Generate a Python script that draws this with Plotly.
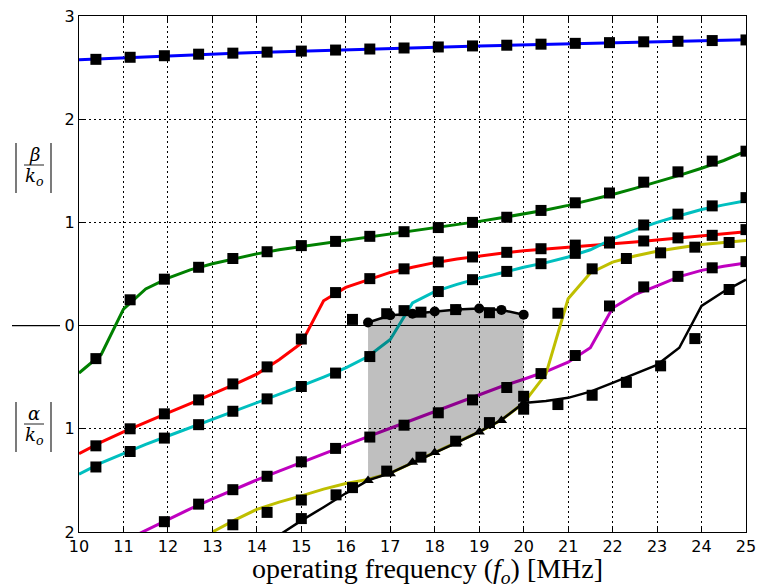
import plotly.graph_objects as go

# ---------------- data ----------------
freq = [10.0, 10.5, 11.0, 11.5, 12.0, 12.5, 13.0, 13.5, 14.0, 14.5, 15.0, 15.5,
        16.0, 16.5, 17.0, 17.5, 18.0, 18.5, 19.0, 19.5, 20.0, 20.5, 21.0, 21.5,
        22.0, 22.5, 23.0, 23.5, 24.0, 24.5, 25.0]

blue_line = [2.575, 2.585, 2.595, 2.605, 2.615, 2.623, 2.631, 2.639, 2.646, 2.653, 2.66, 2.667,
             2.673, 2.679, 2.685, 2.691, 2.697, 2.703, 2.709, 2.715, 2.72, 2.725, 2.73, 2.735,
             2.74, 2.745, 2.75, 2.755, 2.76, 2.765, 2.77]
green_line = [-0.46, -0.28, 0.16, 0.355, 0.46, 0.54, 0.60, 0.65, 0.695, 0.735, 0.765, 0.795,
              0.825, 0.855, 0.885, 0.915, 0.945, 0.975, 1.01, 1.045, 1.08, 1.12, 1.165, 1.215,
              1.27, 1.33, 1.39, 1.455, 1.525, 1.60, 1.69]
red_line = [-1.24, -1.13, -1.03, -0.935, -0.845, -0.755, -0.665, -0.57, -0.47, -0.33, -0.17, 0.24,
            0.37, 0.44, 0.515, 0.565, 0.61, 0.645, 0.675, 0.70, 0.725, 0.745, 0.76, 0.775,
            0.79, 0.81, 0.83, 0.85, 0.87, 0.89, 0.91]
cyan_line = [-1.44, -1.33, -1.24, -1.15, -1.07, -0.99, -0.91, -0.83, -0.75, -0.665, -0.585, -0.50,
             -0.41, -0.30, -0.135, 0.22, 0.33, 0.40, 0.46, 0.51, 0.565, 0.61, 0.665, 0.735,
             0.84, 0.925, 1.0, 1.065, 1.125, 1.17, 1.21]
magenta_line = [None, None, -2.09, -1.985, -1.88, -1.775, -1.68, -1.585, -1.495, -1.41, -1.325, -1.24,
                -1.155, -1.075, -0.995, -0.915, -0.835, -0.755, -0.675, -0.59, -0.52, -0.445, -0.355, -0.215,
                0.17, 0.30, 0.385, 0.475, 0.535, 0.575, 0.607]
yellow_line = [None, None, None, None, None, None, -2.0, -1.885, -1.78, -1.71, -1.65, -1.585,
               -1.53, -1.49, -1.43, -1.33, -1.235, -1.135, -1.03, -0.915, -0.75, -0.47, 0.26, 0.51,
               0.615, 0.675, 0.72, 0.755, 0.785, 0.805, 0.825]
black_line = [None, None, None, None, None, None, None, None, None, -2.03, -1.89, -1.76,
              -1.625, -1.50, -1.43, -1.33, -1.235, -1.135, -1.03, -0.915, -0.75, -0.73, -0.70, -0.64,
              -0.555, -0.47, -0.38, -0.215, 0.19, 0.33, 0.445]

# square markers (measured modes)
sq_grid = [10.38, 11.15, 11.92, 12.69, 13.46, 14.23, 15.0, 15.77, 16.54, 17.31,
           18.08, 18.85, 19.62, 20.39, 21.16, 21.93, 22.7, 23.47, 24.24, 25.0]
blue_sq = [2.58, 2.60, 2.615, 2.63, 2.64, 2.65, 2.66, 2.67, 2.68, 2.69,
           2.70, 2.71, 2.717, 2.727, 2.735, 2.742, 2.75, 2.755, 2.762, 2.768]
green_sq = [-0.32, 0.25, 0.45, 0.565, 0.65, 0.716, 0.775, 0.816, 0.865, 0.91,
            0.95, 1.0, 1.05, 1.116, 1.19, 1.285, 1.39, 1.49, 1.594, 1.69]
red_sq = [-1.165, -1.0, -0.855, -0.72, -0.565, -0.40, -0.13, 0.32, 0.455, 0.55,
          0.617, 0.665, 0.71, 0.745, 0.78, 0.80, 0.82, 0.85, 0.875, 0.93]
cyan_sq = [-1.37, -1.22, -1.09, -0.96, -0.83, -0.71, -0.59, -0.46, -0.30, 0.145,
           0.33, 0.445, 0.525, 0.60, 0.70, 0.81, 0.975, 1.08, 1.16, 1.24]
magenta_sq_x = [11.92, 12.69, 13.46, 14.23, 15.0, 15.77, 16.54, 17.31, 18.08,
                18.85, 19.62, 20.39, 21.16, 21.93, 22.7, 23.47, 24.24, 25.0]
magenta_sq = [-1.90, -1.73, -1.59, -1.46, -1.32, -1.19, -1.08, -0.965, -0.845,
              -0.72, -0.60, -0.465, -0.29, 0.19, 0.375, 0.477, 0.56, 0.62]
yellow_sq_x = [13.46, 14.23, 15.0, 20.0, 20.77, 21.54, 22.31, 23.08, 23.85, 24.62]
yellow_sq = [-1.93, -1.81, -1.69, -0.685, 0.12, 0.55, 0.65, 0.705, 0.76, 0.805]
black_sq_x = [15.0, 15.78, 16.15, 16.92, 17.69, 18.47, 19.23, 20.0, 20.77, 21.54,
              22.31, 23.08, 23.85, 24.62]
black_sq = [-1.87, -1.64, -1.57, -1.41, -1.275, -1.12, -0.94, -0.81, -0.765, -0.675,
            -0.55, -0.39, -0.126, 0.35]
top_sq_x = [16.15, 16.92, 17.69, 18.47, 19.23]
top_sq = [0.06, 0.115, 0.13, 0.155, 0.125]

# complex-mode band (shaded region)
band_x = [16.5, 17.0, 17.5, 18.0, 18.5, 19.0, 19.5, 20.0]
band_top = [0.03, 0.10, 0.115, 0.137, 0.157, 0.165, 0.152, 0.106]
band_bottom = [-1.50, -1.435, -1.325, -1.23, -1.135, -1.03, -0.92, -0.75]

x_ticks = [10, 11, 12, 13, 14, 15, 16, 17, 18, 19, 20, 21, 22, 23, 24, 25]
y_ticks = [-2, -1, 0, 1, 2, 3]
y_ticktext = ['2', '1', '0', '1', '2', '3']

# ---------------- figure ----------------
W, H = 766, 585
OFF = 8  # page body offset
# target plot area on screen: x 79..746, y 16..532
PW, PH = 667, 516
L = 79 - OFF
T = 16 - OFF
R = W - L - PW
B = H - T - PH


def px(xp):
    return (xp - 79) / PW


def py(yp):
    return (532 - yp) / PH


fig = go.Figure()

line_sets = [
    (blue_line, '#0000ff'),
    (green_line, '#008000'),
    (red_line, '#ff0000'),
    (cyan_line, '#00bfbf'),
    (magenta_line, '#bf00bf'),
    (yellow_line, '#bfbf00'),
]
for ys, col in line_sets:
    fig.add_trace(go.Scatter(x=freq, y=ys, mode='lines',
                             line=dict(color=col, width=3),
                             connectgaps=False, hoverinfo='skip'))

sq_sets = [
    (sq_grid, blue_sq), (sq_grid, green_sq), (sq_grid, red_sq), (sq_grid, cyan_sq),
    (magenta_sq_x, magenta_sq), (yellow_sq_x, yellow_sq), (black_sq_x, black_sq),
    (top_sq_x, top_sq),
]
for xs, ys in sq_sets:
    fig.add_trace(go.Scatter(x=xs, y=ys, mode='markers',
                             marker=dict(symbol='square', size=11, color='black',
                                         line=dict(width=0)),
                             cliponaxis=True, hoverinfo='skip'))

# shaded band
fig.add_trace(go.Scatter(x=band_x + band_x[::-1], y=band_top + band_bottom[::-1],
                         mode='lines', fill='toself', fillcolor='rgba(0,0,0,0.25)',
                         line=dict(width=0, color='rgba(0,0,0,0)'), hoverinfo='skip'))

# black mode line
fig.add_trace(go.Scatter(x=freq, y=black_line, mode='lines',
                         line=dict(color='black', width=2.5), hoverinfo='skip'))
fig.add_trace(go.Scatter(x=band_x, y=band_bottom, mode='markers',
                         marker=dict(symbol='triangle-up', size=10, color='black'),
                         hoverinfo='skip'))
fig.add_trace(go.Scatter(x=band_x, y=band_top, mode='lines+markers',
                         line=dict(color='black', width=2.5),
                         marker=dict(symbol='circle', size=10, color='black'),
                         hoverinfo='skip'))

tickfont = dict(family='DejaVu Sans', size=16, color='black')
fig.update_xaxes(range=[10, 25], tickvals=x_ticks, showgrid=True, gridcolor='black',
                 gridwidth=0.8, griddash='2px,3px', showline=True, linecolor='black',
                 linewidth=1.2, mirror='ticks', ticks='inside', ticklen=5,
                 tickcolor='black', tickfont=tickfont, zeroline=False, automargin=False,
                 ticklabeloverflow='allow')
fig.update_yaxes(range=[-2, 3], tickvals=y_ticks, ticktext=y_ticktext, showgrid=True,
                 gridcolor='black', gridwidth=0.8, griddash='2px,3px', showline=True,
                 linecolor='black', linewidth=1.2, mirror='ticks', ticks='inside',
                 ticklen=5, tickcolor='black', tickfont=tickfont, zeroline=True,
                 zerolinecolor='black', zerolinewidth=1.2, automargin=False,
                 ticklabeloverflow='allow')

shapes = [
    # zero line extension left of axis
    dict(type='line', xref='paper', yref='y', x0=px(12), x1=px(60), y0=0, y1=0,
         line=dict(color='black', width=1.2)),
]
annotations = []
serif = 'DejaVu Serif'
for (cy, sym) in [(168, 'β'), (427, 'α')]:
    top, bot = cy - 25, cy + 25
    for xb in (16, 51):
        shapes.append(dict(type='line', xref='paper', yref='paper', x0=px(xb), x1=px(xb),
                           y0=py(top), y1=py(bot), line=dict(color='#222', width=1.2)))
    shapes.append(dict(type='line', xref='paper', yref='paper', x0=px(24), x1=px(44),
                       y0=py(cy - 3), y1=py(cy - 3), line=dict(color='#222', width=1)))
    annotations.append(dict(xref='paper', yref='paper', x=px(34), y=py(cy - 14),
                            text='<i>%s</i>' % sym, showarrow=False,
                            font=dict(family=serif, size=18, color='black'),
                            xanchor='center', yanchor='middle'))
    annotations.append(dict(xref='paper', yref='paper', x=px(34), y=py(cy + 9),
                            text='<i>k<sub>o</sub></i>', showarrow=False,
                            font=dict(family=serif, size=18, color='black'),
                            xanchor='center', yanchor='middle'))

annotations.append(dict(xref='paper', yref='paper', x=px(427), y=py(570),
                        text='operating frequency (<i>f<sub>o</sub></i>) [MHz]',
                        showarrow=False,
                        font=dict(family='Liberation Serif', size=28, color='black'),
                        xanchor='center', yanchor='middle'))

fig.update_layout(width=W, height=H, margin=dict(l=L, r=R, t=T, b=B, pad=0, autoexpand=False),
                  paper_bgcolor='white', plot_bgcolor='white', showlegend=False,
                  shapes=shapes, annotations=annotations)

fig.write_html('out.html')
